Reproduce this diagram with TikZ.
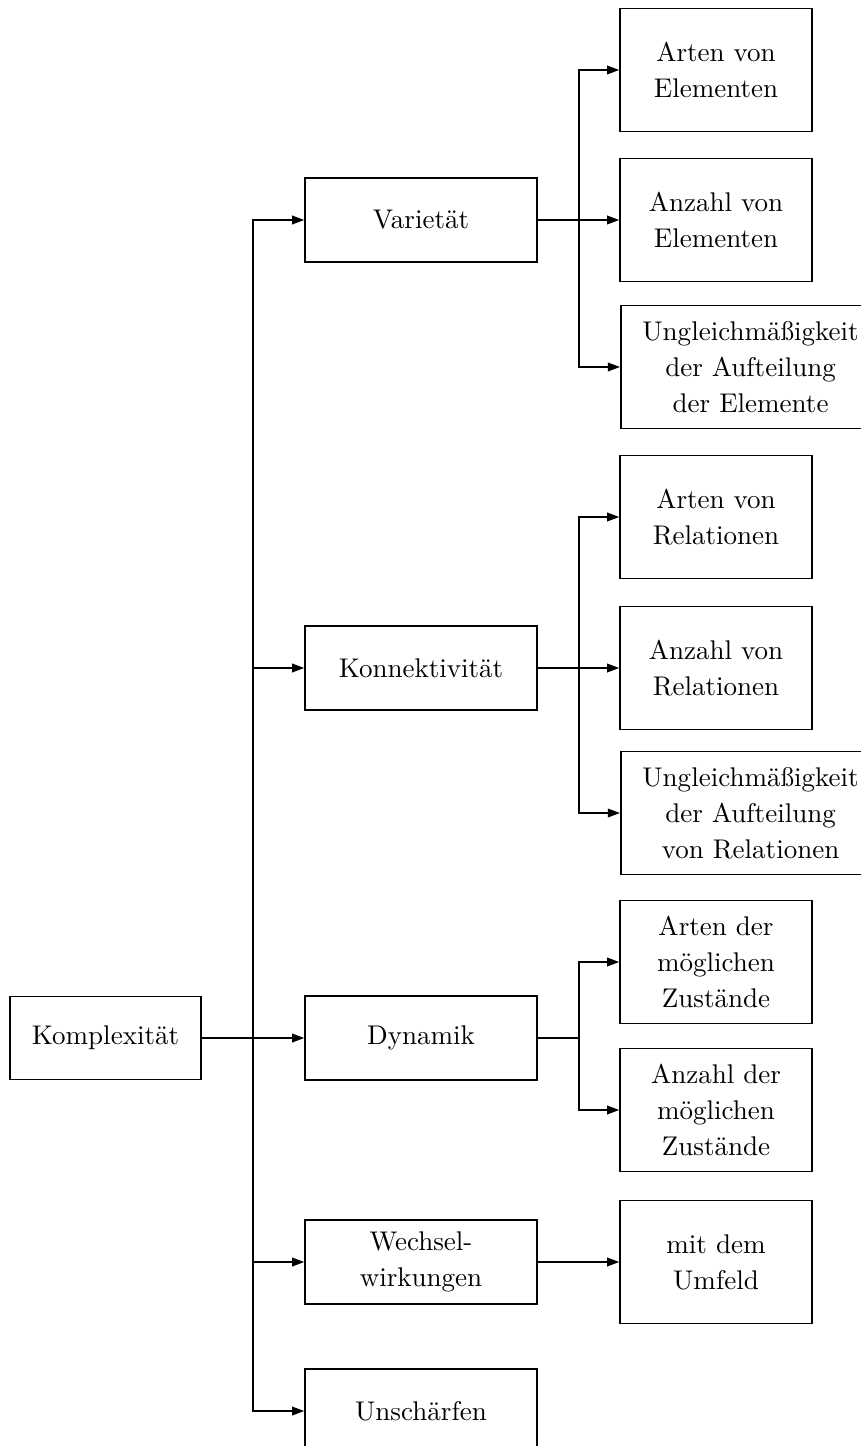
\documentclass[tikz,border=0pt]{standalone}
\usetikzlibrary{arrows.meta}

\tikzset{
  box/.style={draw, line width=0.6pt, align=center, inner sep=2pt,
    font=\fontsize{10}{13.3}\selectfont},
  mainbox/.style={box, minimum width=70.7pt, minimum height=30.7pt},
  midbox/.style={box, minimum width=85.8pt, minimum height=31.1pt},
  leafbox/.style={box, minimum width=71pt, minimum height=45.5pt},
  widebox/.style={box, minimum width=96pt, minimum height=45.5pt, anchor=west},
  arr/.style={-{Triangle[length=4.5pt,width=3.2pt]}, line width=0.6pt},
  lin/.style={line width=0.6pt}
}

\begin{document}
\begin{tikzpicture}[x=0.37pt, y=-0.37pt]
\useasboundingbox (0,0) rectangle (860,1446);

\node[mainbox] (komp) at (105.5,1038) {Komplexität};

\node[midbox] (var) at (421,220) {Varietät};
\node[midbox] (kon) at (421,668) {Konnektivität};
\node[midbox] (dyn) at (421,1038) {Dynamik};
\node[midbox] (ww) at (421,1262) {Wechsel-\\wirkungen};
\node[midbox] (uns) at (421,1411) {Unschärfen};

\node[leafbox] (artel) at (716,70) {Arten von\\Elementen};
\node[leafbox] (anzel) at (716,220) {Anzahl von\\Elementen};
\node[widebox] (ungel) at (620,367) {Ungleichmäßigkeit\\der Aufteilung\\der Elemente};
\node[leafbox] (artrel) at (716,517) {Arten von\\Relationen};
\node[leafbox] (anzrel) at (716,668) {Anzahl von\\Relationen};
\node[widebox] (ungrel) at (620,813) {Ungleichmäßigkeit\\der Aufteilung\\von Relationen};
\node[leafbox] (artzu) at (716,962) {Arten der\\möglichen\\Zustände};
\node[leafbox] (anzzu) at (716,1110) {Anzahl der\\möglichen\\Zustände};
\node[leafbox] (umf) at (716,1262) {mit dem\\Umfeld};

\coordinate (trunk) at (253,1038);
\coordinate (bvar) at (579,220);
\coordinate (bkon) at (579,668);
\coordinate (bdyn) at (579,1038);

\draw[arr] (komp.east) -- (dyn.west);
\draw[arr] (trunk) |- (var.west);
\draw[arr] (trunk) |- (kon.west);
\draw[arr] (trunk) |- (ww.west);
\draw[arr] (trunk) |- (uns.west);

\draw[lin] (var.east) -- (bvar);
\draw[arr] (bvar) |- (artel.west);
\draw[arr] (bvar) |- (anzel.west);
\draw[arr] (bvar) |- (ungel.west);

\draw[lin] (kon.east) -- (bkon);
\draw[arr] (bkon) |- (artrel.west);
\draw[arr] (bkon) |- (anzrel.west);
\draw[arr] (bkon) |- (ungrel.west);

\draw[lin] (dyn.east) -- (bdyn);
\draw[arr] (bdyn) |- (artzu.west);
\draw[arr] (bdyn) |- (anzzu.west);

\draw[arr] (ww.east) -- (umf.west);
\end{tikzpicture}
\end{document}
